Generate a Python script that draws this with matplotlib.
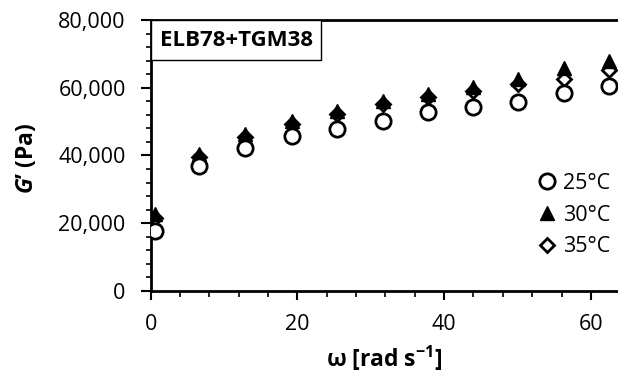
import numpy as np
import matplotlib
matplotlib.use("Agg")
import matplotlib.pyplot as plt
from matplotlib.ticker import MultipleLocator, FuncFormatter
from matplotlib.patches import Rectangle

plt.rcParams['font.family'] = ['Open Sans', 'DejaVu Sans']
plt.rcParams['mathtext.fontset'] = 'custom'
plt.rcParams['mathtext.rm'] = 'Open Sans:bold'
plt.rcParams['mathtext.it'] = 'Open Sans:bold:italic'
plt.rcParams['mathtext.bf'] = 'Open Sans:bold'

# angular frequency (rad/s)
omega = [0.6, 6.6, 12.9, 19.2, 25.4, 31.6, 37.8, 43.9, 50.0, 56.3, 62.5]

# storage modulus G' (Pa)
g_25 = [17800, 36800, 42200, 45900, 47800, 50300, 52700, 54400, 55900, 58400, 60400]
g_30 = [22800, 40500, 46200, 50300, 53200, 56000, 58100, 60100, 62500, 65700, 67900]
g_35 = [21400, 39500, 45400, 49300, 52300, 55200, 57200, 59100, 61100, 62700, 65100]

labels = ['25°C', '30°C', '35°C']

fig = plt.figure(figsize=(6.18, 3.78), dpi=100)
ax = fig.add_axes([0.2439, 0.2302, 0.7561, 0.7169])

ax.plot(omega, g_25, 'o', ms=11, mfc='white', mec='black', mew=2.0, label=labels[0], zorder=5)
ax.plot(omega, g_30, '^', ms=10.5, mfc='black', mec='black', mew=1.0, label=labels[1], zorder=4)
ax.plot(omega, g_35, 'D', ms=7, mfc='white', mec='black', mew=2.0, label=labels[2], zorder=3)

ax.set_xlim(0, 63.7)
ax.set_ylim(0, 80000)

ax.xaxis.set_major_locator(MultipleLocator(20))
ax.xaxis.set_minor_locator(MultipleLocator(4))
ax.yaxis.set_major_locator(MultipleLocator(20000))
ax.yaxis.set_minor_locator(MultipleLocator(4000))
ax.yaxis.set_major_formatter(FuncFormatter(lambda v, p: f'{int(v):,}'))

for s in ['left', 'bottom', 'top']:
    ax.spines[s].set_linewidth(2.0)
ax.spines['right'].set_visible(False)

ax.tick_params(which='both', direction='out', colors='black', labelsize=15.5)
ax.tick_params(axis='x', which='major', length=6.5, width=1.5, pad=10)
ax.tick_params(axis='x', which='minor', length=4.5, width=1.2)
ax.tick_params(axis='y', which='major', length=7, width=1.5, pad=11)
ax.tick_params(axis='y', which='minor', length=3.8, width=1.2)

ax.set_xlabel(r'ω [rad s$^{-1}$]', fontsize=16.5, fontweight='bold')
ax.set_ylabel(r"$G$’ (Pa)", fontsize=16.5, fontweight='bold')
ax.xaxis.set_label_coords(0.5, -0.195)
ax.yaxis.set_label_coords(-0.239, 0.49)

# sample name box in the upper left corner
ax.add_patch(Rectangle((0, 0.852), 0.364, 0.148, transform=ax.transAxes,
                       fc='white', ec='black', lw=1.0, zorder=6, clip_on=False))
ax.text(0.1836, 0.926, 'ELB78+TGM38', transform=ax.transAxes, fontsize=16,
        fontweight='bold', va='center', ha='center', zorder=7)

ax.legend(loc='center left', bbox_to_anchor=(536 / 618, 1 - 215 / 378),
          bbox_transform=fig.transFigure, frameon=False, fontsize=15.5,
          handletextpad=0.25, handlelength=1.0, labelspacing=0.5,
          borderpad=0, borderaxespad=0)

fig.savefig('out.png', dpi=100)
